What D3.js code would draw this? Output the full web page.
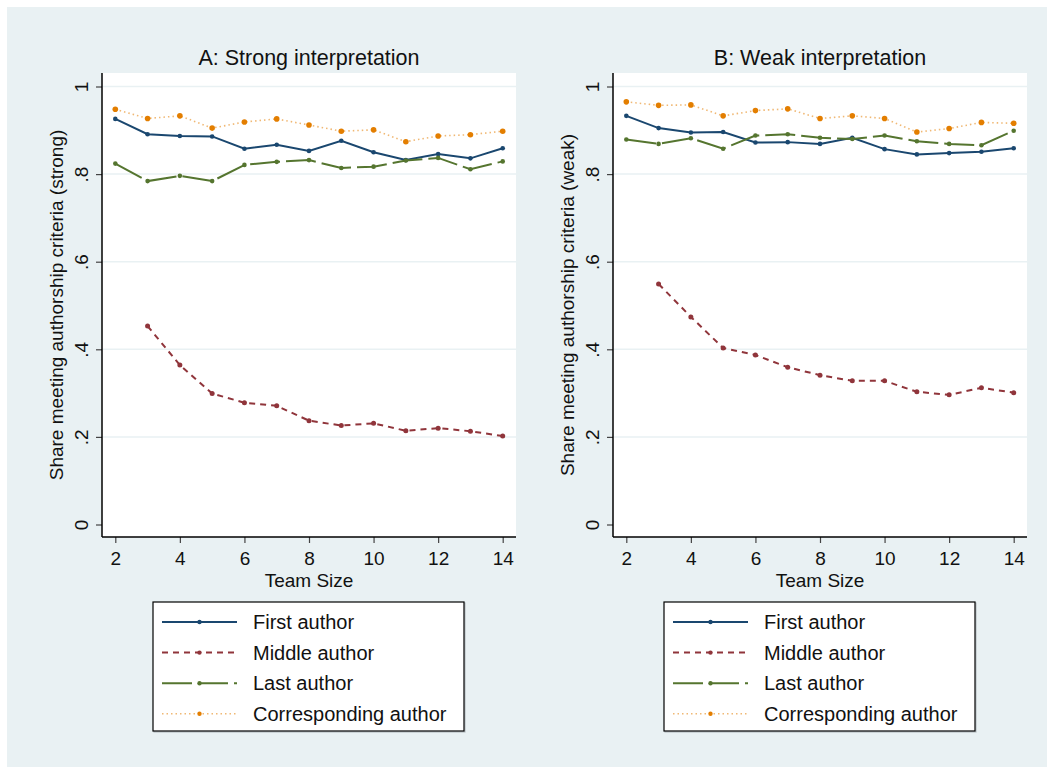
<!DOCTYPE html>
<html>
<head>
<meta charset="utf-8">
<script src="https://cdn.jsdelivr.net/npm/d3@7"></script>
<style>
  html, body { margin: 0; padding: 0; background: #fff; }
  svg { display: block; font-family: "Liberation Sans", Arial, Helvetica, sans-serif; }
</style>
</head>
<body>
<div id="chart"></div>
<script>
// team sizes on the x axis (middle author starts at 3)
const TEAM_SIZE   = [2, 3, 4, 5, 6, 7, 8, 9, 10, 11, 12, 13, 14];
const MIDDLE_SIZE = [3, 4, 5, 6, 7, 8, 9, 10, 11, 12, 13, 14];

const X_TICKS = [2, 4, 6, 8, 10, 12, 14];
const Y_TICKS = [0, 0.2, 0.4, 0.6, 0.8, 1];
const Y_GRID  = [0.2, 0.4, 0.6, 0.8, 1];

// Panel A: strong interpretation
const A_FIRST  = [0.926, 0.891, 0.887, 0.886, 0.858, 0.867, 0.853, 0.876, 0.850, 0.832, 0.846, 0.836, 0.859];
const A_MIDDLE = [0.453, 0.364, 0.299, 0.278, 0.271, 0.237, 0.226, 0.231, 0.214, 0.220, 0.213, 0.202];
const A_LAST   = [0.824, 0.784, 0.796, 0.784, 0.821, 0.828, 0.832, 0.814, 0.817, 0.831, 0.837, 0.811, 0.829];
const A_CORR   = [0.948, 0.927, 0.933, 0.905, 0.919, 0.926, 0.912, 0.898, 0.901, 0.874, 0.887, 0.890, 0.898];

// Panel B: weak interpretation
const B_FIRST  = [0.933, 0.905, 0.895, 0.896, 0.872, 0.873, 0.869, 0.883, 0.857, 0.845, 0.848, 0.851, 0.859];
const B_MIDDLE = [0.549, 0.474, 0.403, 0.387, 0.359, 0.341, 0.328, 0.328, 0.303, 0.296, 0.312, 0.301];
const B_LAST   = [0.879, 0.869, 0.882, 0.858, 0.888, 0.891, 0.883, 0.880, 0.888, 0.875, 0.869, 0.866, 0.899];
const B_CORR   = [0.965, 0.957, 0.958, 0.933, 0.945, 0.949, 0.927, 0.933, 0.927, 0.896, 0.904, 0.918, 0.916];

const LABELS = ["First author", "Middle author", "Last author", "Corresponding author"];

// stata s2color-ish styles
const STYLES = [
  { col: "#1a476f", dash: null,    w: 2,   r: 2.3, op: 1 },
  { col: "#90353b", dash: "6,5",   w: 2,   r: 2.5, op: 1 },
  { col: "#55752f", dash: "30,6",  w: 2,   r: 2.3, op: 1 },
  { col: "#e37e00", dash: "1.5,3", w: 1.6, r: 2.8, op: 0.55 }
];

const BG = "#e9f1f3";
const FONT_COL = "#111";

const svg = d3.select("#chart").append("svg")
  .attr("width", 1047).attr("height", 767);

svg.append("rect").attr("x", 0).attr("y", 0).attr("width", 1047).attr("height", 767).attr("fill", "#fff");
svg.append("rect").attr("x", 7).attr("y", 7).attr("width", 1040).attr("height", 760).attr("fill", BG);

function toPts(xs, ys) { return xs.map((x, i) => ({ x: x, y: ys[i] })); }

function drawPanel(ox, title, ytitle, series) {
  const left = ox, right = ox + 414, top = 73, bottom = 537;
  const x = d3.scaleLinear().domain([2, 14]).range([left + 13.3, left + 400.7]);
  const y = d3.scaleLinear().domain([0, 1]).range([524.5, 86.5]);
  const g = svg.append("g");

  // plot region
  g.append("rect").attr("x", left).attr("y", top).attr("width", right - left).attr("height", bottom - top)
    .attr("fill", "#fff");

  // gridlines
  g.selectAll(null).data(Y_GRID).enter().append("line")
    .attr("x1", left).attr("x2", right).attr("y1", d => y(d)).attr("y2", d => y(d))
    .attr("stroke", BG).attr("stroke-width", 1.5);

  // y axis
  g.append("g").attr("transform", `translate(${left},0)`)
    .call(d3.axisLeft(y).tickValues(Y_TICKS).tickSize(6).tickPadding(0)
      .tickFormat(d => d === 0 ? "0" : d === 1 ? "1" : d3.format(".1f")(d).replace(/^0/, "")))
    .call(ax => {
      ax.select(".domain").remove();
      ax.selectAll("line").attr("stroke", "#444").attr("stroke-width", 1.2);
      ax.selectAll("text")
        .attr("x", null).attr("dy", null)
        .attr("transform", "translate(-14,0) rotate(-90)")
        .attr("text-anchor", "middle")
        .style("font-size", "19px").style("fill", FONT_COL);
    });
  g.append("line").attr("x1", left).attr("x2", left).attr("y1", top).attr("y2", bottom)
    .attr("stroke", "#000").attr("stroke-width", 1.5);

  // x axis
  g.append("g").attr("transform", `translate(0,${bottom})`)
    .call(d3.axisBottom(x).tickValues(X_TICKS).tickSize(6).tickPadding(4))
    .call(ax => {
      ax.select(".domain").remove();
      ax.selectAll("line").attr("stroke", "#444").attr("stroke-width", 1.2);
      ax.selectAll("text").attr("dy", null).attr("y", 28)
        .style("font-size", "19px").style("fill", FONT_COL);
    });
  g.append("line").attr("x1", left).attr("x2", right).attr("y1", bottom).attr("y2", bottom)
    .attr("stroke", "#000").attr("stroke-width", 1.5);

  // titles
  const cx = (left + right) / 2;
  g.append("text").attr("x", cx).attr("y", 65).attr("text-anchor", "middle")
    .style("font-size", "21.5px").style("fill", FONT_COL).text(title);
  g.append("text").attr("x", cx).attr("y", 587).attr("text-anchor", "middle")
    .style("font-size", "19px").style("fill", FONT_COL).text("Team Size");
  g.append("text").attr("transform", `translate(${left - 39},${(top + bottom) / 2}) rotate(-90)`)
    .attr("text-anchor", "middle")
    .style("font-size", "19px").style("fill", FONT_COL).text(ytitle);

  // series
  const lineGen = d3.line().x(d => x(d.x)).y(d => y(d.y));
  series.forEach((pts, i) => {
    const s = STYLES[i];
    g.append("path").datum(pts).attr("fill", "none")
      .attr("stroke", s.col).attr("stroke-width", s.w).attr("stroke-opacity", s.op)
      .attr("stroke-dasharray", s.dash).attr("d", lineGen);
    g.selectAll(null).data(pts).enter().append("circle")
      .attr("cx", d => x(d.x)).attr("cy", d => y(d.y)).attr("r", s.r).attr("fill", s.col);
  });

  // legend
  const lx = left + 51, ly = 602;
  g.append("rect").attr("x", lx + 1).attr("y", ly + 1).attr("width", 311).attr("height", 129)
    .attr("fill", "none").attr("stroke", "#b8c0c4").attr("stroke-width", 1.2);
  g.append("rect").attr("x", lx).attr("y", ly).attr("width", 311).attr("height", 129)
    .attr("fill", "#fff").attr("stroke", "#000").attr("stroke-width", 1.2);
  LABELS.forEach((lab, i) => {
    const s = STYLES[i];
    const ry = ly + 20 + i * 30.6;
    g.append("line").attr("x1", lx + 9).attr("x2", lx + 84).attr("y1", ry).attr("y2", ry)
      .attr("stroke", s.col).attr("stroke-width", s.w).attr("stroke-opacity", s.op)
      .attr("stroke-dasharray", s.dash);
    g.append("circle").attr("cx", lx + 46.5).attr("cy", ry).attr("r", 2.2).attr("fill", s.col);
    g.append("text").attr("x", lx + 100).attr("y", ry + 7)
      .style("font-size", "20px").style("fill", FONT_COL).text(lab);
  });
}

drawPanel(102, "A: Strong interpretation", "Share meeting authorship criteria (strong)",
  [toPts(TEAM_SIZE, A_FIRST), toPts(MIDDLE_SIZE, A_MIDDLE), toPts(TEAM_SIZE, A_LAST), toPts(TEAM_SIZE, A_CORR)]);
drawPanel(613, "B: Weak interpretation", "Share meeting authorship criteria (weak)",
  [toPts(TEAM_SIZE, B_FIRST), toPts(MIDDLE_SIZE, B_MIDDLE), toPts(TEAM_SIZE, B_LAST), toPts(TEAM_SIZE, B_CORR)]);
</script>
</body>
</html>
